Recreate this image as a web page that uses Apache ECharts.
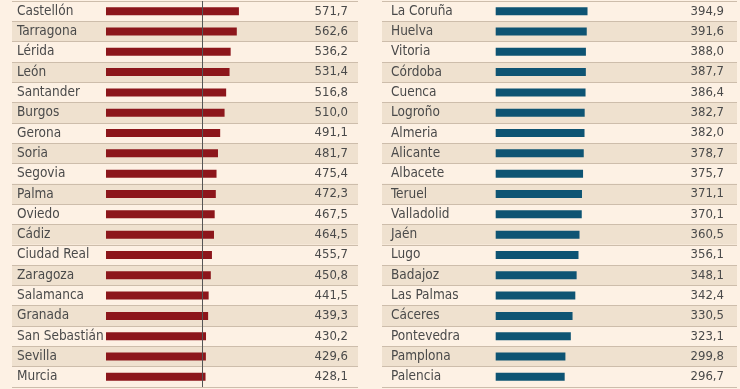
<!DOCTYPE html>
<html><head><meta charset="utf-8">
<script src="https://cdn.jsdelivr.net/npm/echarts@6/dist/echarts.min.js"></script>
<style>html,body{margin:0;padding:0;background:#fdf1e4;}#c{width:740px;height:389px;}</style>
</head><body><div id="c"></div>
<script>
const leftCities = ['Castellón','Tarragona','Lérida','León','Santander','Burgos','Gerona','Soria','Segovia','Palma','Oviedo','Cádiz','Ciudad Real','Zaragoza','Salamanca','Granada','San Sebastián','Sevilla','Murcia'];
const leftValues = [571.7,562.6,536.2,531.4,516.8,510.0,491.1,481.7,475.4,472.3,467.5,464.5,455.7,450.8,441.5,439.3,430.2,429.6,428.1];
const rightCities = ['La Coruña','Huelva','Vitoria','Córdoba','Cuenca','Logroño','Almeria','Alicante','Albacete','Teruel','Valladolid','Jaén','Lugo','Badajoz','Las Palmas','Cáceres','Pontevedra','Pamplona','Palencia'];
const rightValues = [394.9,391.6,388.0,387.7,386.4,382.7,382.0,378.7,375.7,371.1,370.1,360.5,356.1,348.1,342.4,330.5,323.1,299.8,296.7];
const referenceValue = 416;

const FONT = "'Liberation Sans Narrow','DejaVu Sans Condensed','Roboto Condensed',sans-serif";
const TEXT = '#4a4a4a';
const fmt = v => v.toFixed(1).replace('.', ',');
const chart = echarts.init(document.getElementById('c'), null, {renderer:'canvas'});

function yAxes(gridIndex, names, values, nameMargin, valMargin){
  return [
    {gridIndex, type:'category', data:names, inverse:true, position:'left',
     axisLine:{show:false}, axisTick:{show:false},
     axisLabel:{inside:true, margin:nameMargin, color:TEXT, fontFamily:FONT, fontSize:13.5, align:'left', padding:[2,0,0,0]},
     splitArea:{show:true, areaStyle:{color:['#fdf1e4','#efe1cf']}},
     splitLine:{show:true, lineStyle:{color:'#cdbdab', width:1}}},
    {gridIndex, type:'category', data:values.map(fmt), inverse:true, position:'right',
     axisLine:{show:false}, axisTick:{show:false},
     axisLabel:{inside:true, margin:valMargin, color:TEXT, fontFamily:FONT, fontSize:13, align:'right', padding:[2,0,0,0]},
     splitArea:{show:false}, splitLine:{show:false}}
  ];
}

chart.setOption({
  backgroundColor:'#fdf1e4',
  animation:false,
  grid:[
    {left:12, width:346, top:1, bottom:2},
    {left:382, width:355, top:1, bottom:2}
  ],
  xAxis:[
    {gridIndex:0, type:'value', min:-404.3, max:1083.9, show:false, splitLine:{show:false}},
    {gridIndex:1, type:'value', min:-489, max:1037.8, show:false, splitLine:{show:false}}
  ],
  yAxis:[...yAxes(0,leftCities,leftValues,5,10), ...yAxes(1,rightCities,rightValues,9,13)],
  series:[
    {type:'bar', xAxisIndex:0, yAxisIndex:0, data:leftValues, barWidth:8, itemStyle:{color:'#8c161b'},
     markLine:{symbol:'none', silent:true, label:{show:false}, lineStyle:{color:'#555', width:1, type:'solid'}, data:[{xAxis:referenceValue}]}},
    {type:'bar', xAxisIndex:1, yAxisIndex:2, data:rightValues, barWidth:8, itemStyle:{color:'#0e5473'}}
  ]
});
</script></body></html>
